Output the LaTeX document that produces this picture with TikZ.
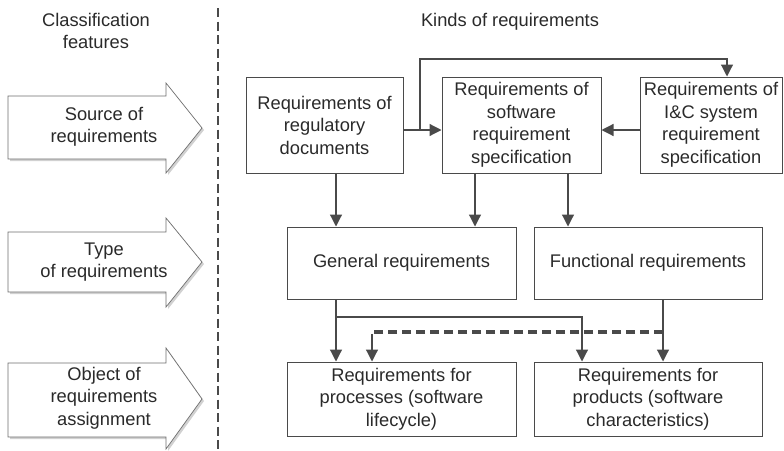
\documentclass[tikz,border=0pt]{standalone}
\usepackage{fontspec}
\setmainfont{Liberation Sans}
\usetikzlibrary{arrows.meta}
\definecolor{ln}{HTML}{4A4A4A}
\definecolor{tx}{HTML}{2A2A2A}
\begin{document}
\begin{tikzpicture}[x=1pt,y=-1pt,
  every node/.style={font=\fontsize{18.3}{22.5}\selectfont, text=tx},
  box/.style={draw=ln, line width=1pt, inner sep=0pt, align=center},
  arr/.style={draw=ln, line width=1.2pt, -{Triangle[length=12pt,width=12pt]}},
  darr/.style={draw=ln, line width=3.6pt, dash pattern=on 9pt off 5pt, -{Triangle[length=12pt,width=12pt]}},
  tipend/.style={draw=ln, line width=1.2pt, -{Triangle[length=12pt,width=12pt]}},
  barrow/.style={draw=ln!80, line width=0.7pt, fill=white},
  lbl/.style={align=center, inner sep=0pt}]
\useasboundingbox (0,0) rectangle (784,450);
% titles
\node[lbl] (cf) at (96,31) {Classification\\features};
\node[lbl] (kr) at (510,22) {Kinds of requirements};
% divider
\coordinate (dtop) at (218,8);
\coordinate (dbot) at (218,450);
\draw[ln, line width=2pt, dash pattern=on 9pt off 4.5pt] (dtop) -- (dbot);
% block arrows (with light shadow)
\begin{scope}[shift={(2,2)}]
\fill[black!18] (8,96) -- (166,96) -- (166,83) -- (202,128) -- (166,173) -- (166,159) -- (8,159) -- cycle;
\fill[black!18] (8,232) -- (166,232) -- (166,218) -- (202,262) -- (166,307) -- (166,292) -- (8,292) -- cycle;
\fill[black!18] (8,363) -- (166,363) -- (166,348) -- (202,399) -- (166,449) -- (166,437) -- (8,437) -- cycle;
\end{scope}
\draw[barrow] (8,96) -- (166,96) -- (166,83) -- (202,128) -- (166,173) -- (166,159) -- (8,159) -- cycle;
\draw[barrow] (8,232) -- (166,232) -- (166,218) -- (202,262) -- (166,307) -- (166,292) -- (8,292) -- cycle;
\draw[barrow] (8,363) -- (166,363) -- (166,348) -- (202,399) -- (166,449) -- (166,437) -- (8,437) -- cycle;
\node[lbl] (a1) at (104,127) {Source of\\requirements};
\node[lbl] (a2) at (104,262) {Type\\of requirements};
\node[lbl] (a3) at (104,398) {Object of\\requirements\\assignment};
% boxes
\node[box, minimum width=157pt, minimum height=96pt] (reg) at (324.5,125) {Requirements of\\regulatory\\documents};
\node[box, minimum width=159pt, minimum height=96pt] (sw) at (521.5,125) {Requirements of\\software\\requirement\\specification};
\node[box, minimum width=142pt, minimum height=96pt] (ic) at (711,125) {Requirements of\\I\&C system\\requirement\\specification};
\node[box, minimum width=229pt, minimum height=72pt] (gen) at (401.5,263) {General requirements};
\node[box, minimum width=228pt, minimum height=72pt] (fun) at (648,263) {Functional requirements};
\node[box, minimum width=229pt, minimum height=74pt] (proc) at (401.5,399) {Requirements for\\processes (software\\lifecycle)};
\node[box, minimum width=228pt, minimum height=74pt] (prod) at (648,399) {Requirements for\\products (software\\characteristics)};
% helper coordinates
\coordinate (xa) at (336,0);
\coordinate (xb) at (475,0);
\coordinate (xc) at (568,0);
\coordinate (xd) at (420,0);
\coordinate (xe) at (727,0);
\coordinate (xf) at (582,0);
\coordinate (xg) at (663,0);
\coordinate (xh) at (372,0);
\coordinate (ya) at (0,59);
\coordinate (yb) at (0,130);
\coordinate (yc) at (0,317);
\coordinate (yd) at (0,332);
% connectors
\draw[arr] (reg.south -| xa) -- (gen.north -| xa);
\draw[arr] (sw.south -| xb) -- (gen.north -| xb);
\draw[arr] (sw.south -| xc) -- (fun.north -| xc);
\draw[arr] (reg.east |- yb) -- (sw.west |- yb);
\draw[arr] (xd |- yb) -- (xd |- ya) -- (xe |- ya) -- (ic.north -| xe);
\draw[arr] (ic.west |- yb) -- (sw.east |- yb);
\draw[arr] (gen.south -| xa) -- (proc.north -| xa);
\draw[arr] (xa |- yc) -- (xf |- yc) -- (prod.north -| xf);
\draw[arr] (fun.south -| xg) -- (prod.north -| xg);
\draw[ln, line width=3.6pt, dash pattern=on 9pt off 5pt] (xg |- yd) -- (xh |- yd);
\draw[tipend] ([yshift=-1.8pt]xh |- yd) -- (proc.north -| xh);
\end{tikzpicture}
\end{document}
